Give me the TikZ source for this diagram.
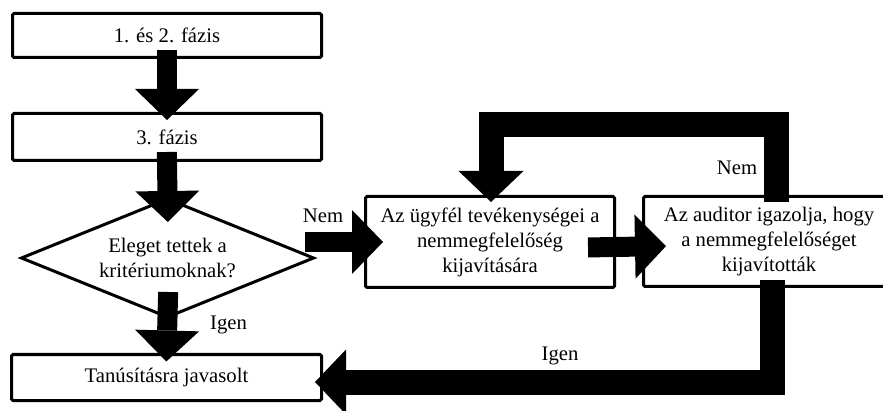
\documentclass[tikz,border=0pt]{standalone}
\usepackage{fontspec}
\setmainfont{Liberation Serif}
\usetikzlibrary{arrows.meta,shapes.geometric}
\begin{document}
\begin{tikzpicture}[x=1pt,y=-1pt,
  font=\fontsize{20.7}{25}\selectfont,
  box/.style={draw, line width=3pt, rounded corners=1.5pt, inner sep=0pt,
    outer sep=0pt, align=center},
  decision/.style={draw, diamond, aspect=2.47, line width=3pt, inner sep=0pt,
    outer sep=0pt, align=center, minimum width=292pt, minimum height=118pt},
  flow/.style={line width=20pt,
    -{Triangle[length=31pt,width=64pt,line width=0pt]}},
  loopflow/.style={line width=25pt,
    -{Triangle[length=31pt,width=65pt,line width=0pt]}},
  lbl/.style={inner sep=0pt}
]
\fill[white] (0,0) rectangle (883,411);
\clip (0,0) rectangle (883,411);

% process boxes and the decision
\node[box, minimum width=309pt, minimum height=44pt] (p12) at (167,35.5) {1. és 2. fázis};
\node[box, minimum width=309pt, minimum height=47pt] (p3) at (167,137) {3. fázis};
\node[decision] (crit) at (167.5,258) {Eleget tettek a\\kritériumoknak?};
\node[box, minimum width=310pt, minimum height=46pt] (cert) at (166.5,377.5) {Tanúsításra javasolt};
\node[box, minimum width=249pt, minimum height=91pt] (client) at (490,242)
  {Az ügyfél tevékenységei a\\nemmegfelelőség\\kijavítására};
\node[box, minimum width=251pt, minimum height=90pt] (audit) at (769,241.5)
  {Az auditor igazolja, hogy\\a nemmegfelelőséget\\kijavították};

% main flow
\draw[flow, shorten <=-7.5pt, shorten >=-6.5pt] (p12) -- (p3);
\draw[flow, shorten <=-8.5pt, shorten >=-23pt] (p3.south) -- (crit.north);
\draw[flow, shorten <=-25pt, shorten >=-7pt] (crit.south) -- (cert.north);
\draw[flow, shorten <=-8.5pt, shorten >=-17.5pt] (crit.east |- client.west) -- (client.west);
\draw[flow, shorten <=-26.5pt, shorten >=-22.5pt]
  ([yshift=-5pt]client.east) -- ([yshift=-5pt]audit.west);

% feedback loops
\coordinate (nemturn) at (491,124.5);
\draw[loopflow] ([xshift=7pt,yshift=-5.5pt]audit.north) |- (nemturn)
  -- ([xshift=1pt,yshift=-5.5pt]client.north);
\draw[loopflow] ([xshift=3.5pt,yshift=6.5pt]audit.south)
  |- ([xshift=-6.5pt,yshift=-4.5pt]cert.east);

% branch labels
\node[lbl] (nem1) at (323,216) {Nem};
\node[lbl] (nem2) at (737,168) {Nem};
\node[lbl] (igen1) at (228.5,324.5) {Igen};
\node[lbl] (igen2) at (560,355.5) {Igen};
\end{tikzpicture}
\end{document}
